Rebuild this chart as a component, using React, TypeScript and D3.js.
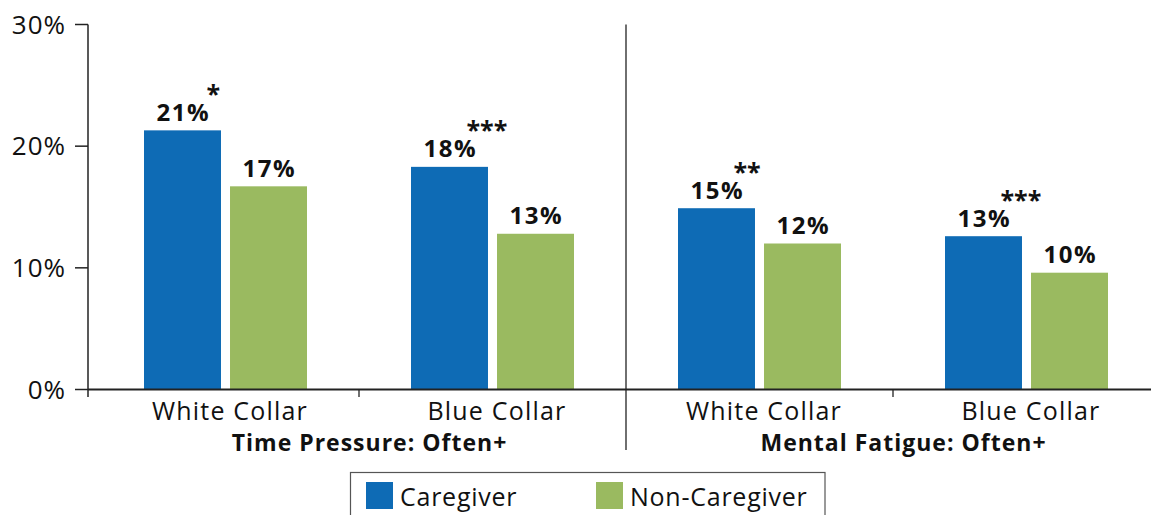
import React from 'react';
import * as d3 from 'd3';

const categories = ['TP White Collar', 'TP Blue Collar', 'MF White Collar', 'MF Blue Collar'];
const categoryLabels = ['White Collar', 'Blue Collar', 'White Collar', 'Blue Collar'];
const groups = ['Time Pressure: Often+', 'Mental Fatigue: Often+'];
const seriesNames = ['Caregiver', 'Non-Caregiver'];
const caregiver = [21.3, 18.3, 14.9, 12.6];
const nonCaregiver = [16.7, 12.8, 12.0, 9.6];
const caregiverLabels = ['21%', '18%', '15%', '13%'];
const nonCaregiverLabels = ['17%', '13%', '12%', '10%'];
const significance = ['*', '***', '**', '***'];
const yTicks = [0, 10, 20, 30];

const W = 1151;
const H = 515;
const FONT = '"Open Sans", "Noto Sans", sans-serif';
const BLUE = '#0e6bb5';
const GREEN = '#9aba60';
const INK = '#111';

const App: React.FC = () => {
  const y = d3.scaleLinear().domain([0, 30]).range([389.5, 24.5]);
  const x0 = d3.scaleBand<string>().domain(categories).range([92, 1160]).padding(0);
  const x1 = d3.scaleBand<string>().domain(seriesNames).range([-81.5, 81.5]).paddingInner(0.105);
  const colors = d3.scaleOrdinal<string, string>().domain(seriesNames).range([BLUE, GREEN]);

  const values = [caregiver, nonCaregiver];
  const labels = [caregiverLabels, nonCaregiverLabels];
  const center = (c: string) => (x0(c) as number) + x0.bandwidth() / 2;
  const boundaries = categories.slice(1).map(c => x0(c) as number);

  return (
    <>
      <style>{`body{margin:0}`}</style>
      <svg width={W} height={H} viewBox={`0 0 ${W} ${H}`} style={{ display: 'block', fontFamily: FONT }}>
        <rect width={W} height={H} fill="#fff" />

        {/* bars */}
        {seriesNames.map((s, si) =>
          categories.map((c, ci) => {
            const bx = center(c) + (x1(s) as number);
            const top = y(values[si][ci]);
            const stars = significance[ci];
            return (
              <g key={`${s}-${c}`}>
                <rect x={bx} y={top} width={x1.bandwidth()} height={y(0) - top} fill={colors(s)} />
                <text
                  x={bx + x1.bandwidth() / 2 + 0.8}
                  y={top - 9.5}
                  textAnchor="middle"
                  fontSize={24}
                  fontWeight={700}
                  letterSpacing={1.5}
                  fill={INK}
                >
                  {labels[si][ci]}
                </text>
                {si === 0 && (
                  <text
                    x={bx + x1.bandwidth() / 2 + (stars.length === 1 ? 24 : 17)}
                    y={top - 9.5 - 18}
                    fontSize={25}
                    fontWeight={700}
                    fill={INK}
                  >
                    {stars}
                  </text>
                )}
              </g>
            );
          })
        )}

        {/* y axis */}
        <line x1={88} x2={88} y1={y(30)} y2={397} stroke="#222" strokeWidth={1.5} />
        {yTicks.map(t => (
          <g key={t}>
            <line x1={75} x2={88} y1={y(t)} y2={y(t)} stroke="#222" strokeWidth={1.5} />
            <text x={66} y={y(t) + 9} textAnchor="end" fontSize={26} letterSpacing={1} fill={INK}>
              {t}%
            </text>
          </g>
        ))}

        {/* x axis */}
        <line x1={88} x2={W} y1={y(0)} y2={y(0)} stroke="#222" strokeWidth={2} />
        {boundaries.map((b, i) =>
          i === 1 ? (
            <line key={i} x1={b} x2={b} y1={y(30)} y2={450} stroke="#222" strokeWidth={1.3} />
          ) : (
            <line key={i} x1={b} x2={b} y1={y(0)} y2={397} stroke="#222" strokeWidth={1.3} />
          )
        )}
        {categories.map((c, i) => (
          <text
            key={c}
            x={center(c) + 4.5}
            y={420}
            textAnchor="middle"
            fontSize={25}
            letterSpacing={1.2}
            fill={INK}
          >
            {categoryLabels[i]}
          </text>
        ))}
        {groups.map((g, i) => {
          const mid = (center(categories[i * 2]) + center(categories[i * 2 + 1])) / 2;
          return (
            <text
              key={g}
              x={mid + 10.5}
              y={451}
              textAnchor="middle"
              fontSize={23}
              fontWeight={700}
              letterSpacing={1}
              fill={INK}
            >
              {g}
            </text>
          );
        })}

        {/* legend */}
        <rect x={350.5} y={472.5} width={474.5} height={60} fill="#fff" stroke="#555" strokeWidth={1.2} />
        {seriesNames.map((s, i) => {
          const lx = i === 0 ? 366 : 596;
          return (
            <g key={s}>
              <rect x={lx} y={482} width={27} height={27} fill={colors(s)} />
              <text x={lx + 34} y={505.5} fontSize={25} letterSpacing={0.75} fill={INK}>
                {s}
              </text>
            </g>
          );
        })}
      </svg>
    </>
  );
};

export default App;
